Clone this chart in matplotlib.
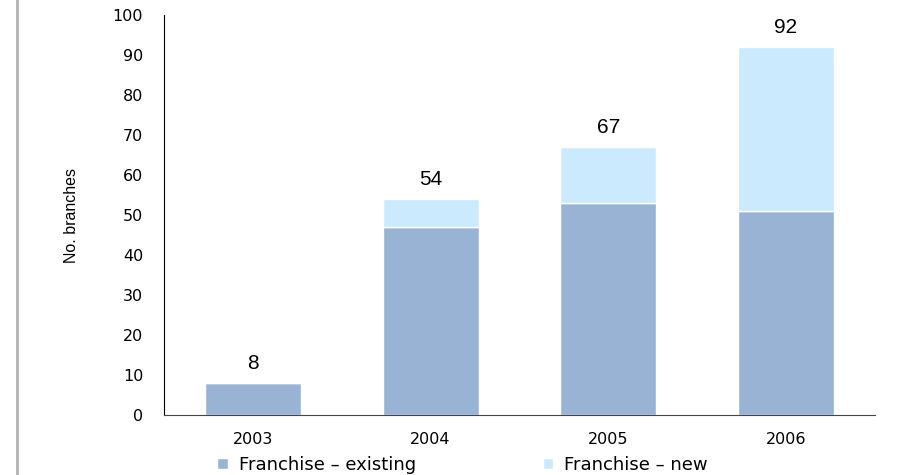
import matplotlib.pyplot as plt
import numpy as np

years = ["2003", "2004", "2005", "2006"]
existing = [8, 47, 53, 51]
new = [0, 7, 14, 41]
totals = [8, 54, 67, 92]

plt.rcParams['font.family'] = ['DejaVu Sans']

fig = plt.figure(figsize=(9.19, 4.75), dpi=100)
ax = fig.add_axes([0.1785, 0.1263, 0.7735, 0.8421])

x = np.arange(len(years))
w = 0.54
ax.bar(x, existing, w, color="#98b3d4", edgecolor="white", linewidth=1,
       label="Franchise \u2013 existing")
ax.bar(x, new, w, bottom=existing, color="#cceafd", edgecolor="white",
       linewidth=1, label="Franchise \u2013 new")

for xi, t in zip(x, totals):
    ax.annotate(str(t), (xi, t), xytext=(0, 7), textcoords="offset points",
                ha="center", va="bottom", fontsize=15, family="Liberation Sans")

ax.set_xlim(-0.5, 3.5)
ax.set_ylim(0, 100)
ax.set_yticks(range(0, 101, 10))
ax.set_xticks(x)
ax.set_xticklabels(years)
ax.tick_params(length=0, labelsize=11.5, pad=12)
ax.tick_params(axis="y", pad=15)
ax.spines["top"].set_visible(False)
ax.spines["right"].set_visible(False)
ax.spines["left"].set_color("black")
ax.spines["bottom"].set_color("#444444")
ax.set_ylabel("No. branches", fontsize=11.5, family="Liberation Sans", labelpad=24)

ax.legend(loc="center", bbox_to_anchor=(0.42, -0.125), ncol=2, frameon=False,
          fontsize=13, handlelength=0.6, handleheight=0.6, columnspacing=7.0,
          handletextpad=0.6, borderpad=0)

fig.add_artist(plt.Line2D([0.0185, 0.0185], [0, 1], color="#b3b3b3", linewidth=2,
                          transform=fig.transFigure))

fig.savefig("out.png", dpi=100)
